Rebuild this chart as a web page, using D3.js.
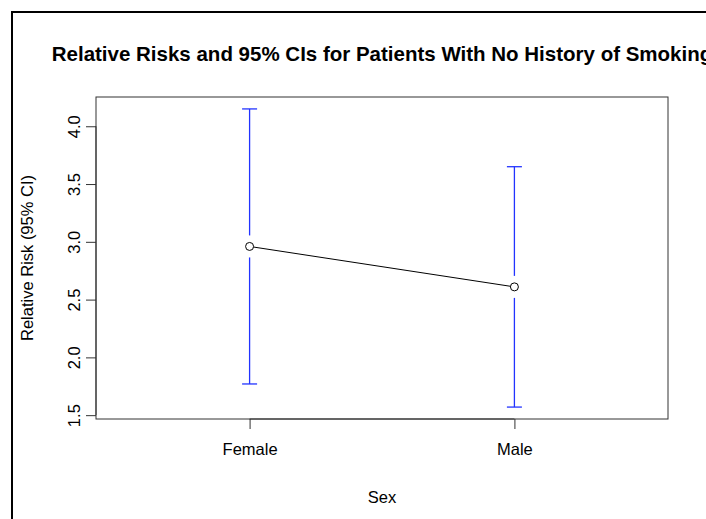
<!DOCTYPE html>
<html>
<head>
<meta charset="utf-8">
<script src="https://cdn.jsdelivr.net/npm/d3@7"></script>
<style>
  body { margin: 0; background: #fff; }
  text { font-family: "Liberation Sans", Arial, sans-serif; fill: #000; }
</style>
</head>
<body>
<svg id="chart" width="706" height="519"></svg>
<script>
// values
const groups = ["Female", "Male"];
const relRisk = [2.96, 2.61];
const ciLower = [1.77, 1.57];
const ciUpper = [4.15, 3.65];
const yTicks = [1.5, 2.0, 2.5, 3.0, 3.5, 4.0];

const svg = d3.select("#chart");
const plot = { left: 96, right: 668, top: 97, bottom: 419 };
const labelSize = "16.5px";

// R style 4% axis extension
const yMin = d3.min(ciLower), yMax = d3.max(ciUpper);
const yPad = (yMax - yMin) * 0.04;
const xScale = d3.scaleLinear().domain([0.5 - 0.08, 2.5 + 0.08]).range([plot.left, plot.right]);
const yScale = d3.scaleLinear().domain([yMin - yPad, yMax + yPad]).range([plot.bottom, plot.top]);

// outer frame
svg.append("rect")
  .attr("x", 12).attr("y", 12)
  .attr("width", 720).attr("height", 540)
  .attr("fill", "none").attr("stroke", "#000").attr("stroke-width", 2);

// title
svg.append("text")
  .attr("x", (plot.left + plot.right) / 2)
  .attr("y", 61)
  .attr("text-anchor", "middle")
  .style("font-size", "20.5px")
  .style("font-weight", "bold")
  .text("Relative Risks and 95% CIs for Patients With No History of Smoking");

// box
svg.append("rect")
  .attr("x", plot.left).attr("y", plot.top)
  .attr("width", plot.right - plot.left).attr("height", plot.bottom - plot.top)
  .attr("fill", "none").attr("stroke", "#333").attr("stroke-width", 1);

// y axis
const yAxis = d3.axisLeft(yScale).tickValues(yTicks).tickFormat(d3.format(".1f")).tickSize(10).tickPadding(0);
const yG = svg.append("g").attr("transform", `translate(${plot.left},0)`).call(yAxis);
yG.select(".domain").attr("stroke", "#333").attr("d", `M0,${yScale(1.5)}V${yScale(4.0)}`);
yG.selectAll(".tick line").attr("stroke", "#333");
yG.selectAll(".tick text")
  .attr("transform", "rotate(-90)")
  .attr("x", 0).attr("y", -16)
  .attr("dy", 0)
  .attr("text-anchor", "middle")
  .style("font-size", labelSize)
  .style("font-family", "'Liberation Sans', Arial, sans-serif");

// x axis
const xAxis = d3.axisBottom(xScale).tickValues([1, 2]).tickFormat((d) => groups[d - 1]).tickSize(10).tickPadding(14);
const xG = svg.append("g").attr("transform", `translate(0,${plot.bottom})`).call(xAxis);
xG.select(".domain").attr("d", `M${xScale(1)},0H${xScale(2)}`).attr("stroke", "#333");
xG.selectAll(".tick line").attr("stroke", "#333");
xG.selectAll(".tick text")
  .style("font-size", labelSize)
  .style("font-family", "'Liberation Sans', Arial, sans-serif");

// axis titles
svg.append("text")
  .attr("x", (plot.left + plot.right) / 2).attr("y", 503)
  .attr("text-anchor", "middle").style("font-size", labelSize)
  .text("Sex");
svg.append("text")
  .attr("transform", `translate(33,${(plot.top + plot.bottom) / 2}) rotate(-90)`)
  .attr("text-anchor", "middle").style("font-size", labelSize)
  .text("Relative Risk (95% CI)");

const data = groups.map((g, i) => ({ x: i + 1, rr: relRisk[i], lo: ciLower[i], hi: ciUpper[i] }));
const gap = 11;
const capW = 7.5;

// error bars with gap around the point
const bars = svg.append("g").attr("stroke", "#2233ff").attr("stroke-width", 1.3);
data.forEach((d) => {
  const x = xScale(d.x);
  bars.append("line").attr("x1", x).attr("x2", x).attr("y1", yScale(d.hi)).attr("y2", yScale(d.rr) - gap);
  bars.append("line").attr("x1", x).attr("x2", x).attr("y1", yScale(d.rr) + gap).attr("y2", yScale(d.lo));
  bars.append("line").attr("x1", x - capW).attr("x2", x + capW).attr("y1", yScale(d.hi)).attr("y2", yScale(d.hi));
  bars.append("line").attr("x1", x - capW).attr("x2", x + capW).attr("y1", yScale(d.lo)).attr("y2", yScale(d.lo));
});

// connecting line
svg.append("path")
  .datum(data)
  .attr("fill", "none").attr("stroke", "#000").attr("stroke-width", 1)
  .attr("d", d3.line().x((d) => xScale(d.x)).y((d) => yScale(d.rr)));

svg.append("g").selectAll("circle").data(data).join("circle")
  .attr("cx", (d) => xScale(d.x)).attr("cy", (d) => yScale(d.rr))
  .attr("r", 4).attr("fill", "#fff").attr("stroke", "#000").attr("stroke-width", 1);
</script>
</body>
</html>
